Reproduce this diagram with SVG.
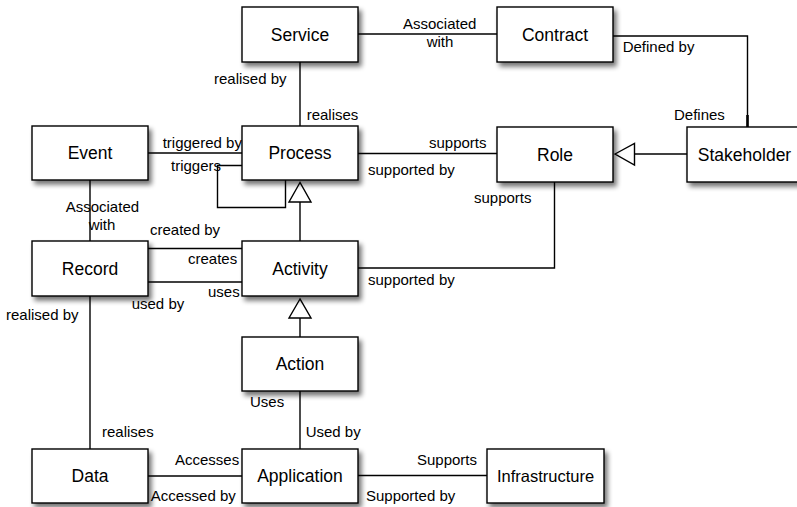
<svg xmlns="http://www.w3.org/2000/svg" width="797" height="507" viewBox="0 0 797 507">
<style>
.box{fill:#fff;stroke:#000;stroke-width:1.4;filter:url(#sh)}
.nt{font-family:"Liberation Sans",Arial,Helvetica,sans-serif;font-size:17.5px;text-anchor:middle;fill:#000}
.lb{font-family:"Liberation Sans",Arial,Helvetica,sans-serif;font-size:15px;fill:#000}
.ln{fill:none;stroke:#000;stroke-width:1.4}
.tri{fill:#fff;stroke:#000;stroke-width:1.4}
</style>
<defs>
<filter id="sh" x="-20%" y="-20%" width="150%" height="160%">
<feGaussianBlur in="SourceAlpha" stdDeviation="2.5"/>
<feOffset dx="3" dy="4" result="b"/>
<feComponentTransfer><feFuncA type="linear" slope="0.55"/></feComponentTransfer>
<feMerge><feMergeNode/><feMergeNode in="SourceGraphic"/></feMerge>
</filter>
</defs>
<rect width="797" height="507" fill="#fff"/>
<g id="connectors">
<path class="ln" d="M358,34 H497"/>
<path class="ln" d="M613,36 H747.5 V127"/>
<path d="M747.5,115 V127" stroke="#000" stroke-width="2.6"/>
<path class="ln" d="M300,62 V126"/>
<path class="ln" d="M148,153 H242"/>
<path class="ln" d="M242,165.5 H217.5 V207.5 H285.5 V180"/>
<path class="ln" d="M358,153.5 H497"/>
<path class="ln" d="M687,154 H634.5"/>
<polygon class="tri" points="615,154 634.5,143.5 634.5,165"/>
<path class="ln" d="M554.5,182 V268 H358"/>
<path class="ln" d="M300,241 V202"/>
<polygon class="tri" points="300,182.5 289,202 311,202"/>
<path class="ln" d="M90,180 V241"/>
<path class="ln" d="M148,248.5 H242"/>
<path class="ln" d="M148,282 H242"/>
<path class="ln" d="M90,296 V449"/>
<path class="ln" d="M300,337 V318"/>
<polygon class="tri" points="300,299 289,318 311,318"/>
<path class="ln" d="M300,391 V449"/>
<path class="ln" d="M148,476 H242"/>
<path class="ln" d="M358,475.5 H487"/>
</g>
<g id="labels">
<text class="lb" x="403" y="29">Associated</text>
<text class="lb" x="440" y="47" text-anchor="middle">with</text>
<text class="lb" x="622.7" y="51.5">Defined by</text>
<text class="lb" x="674" y="120">Defines</text>
<text class="lb" x="214" y="84">realised by</text>
<text class="lb" x="306.7" y="120">realises</text>
<text class="lb" x="162.7" y="148">triggered by</text>
<text class="lb" x="171" y="170.5">triggers</text>
<text class="lb" x="429" y="148">supports</text>
<text class="lb" x="368" y="175">supported by</text>
<text class="lb" x="474" y="203">supports</text>
<text class="lb" x="368" y="285">supported by</text>
<text class="lb" x="65.7" y="212">Associated</text>
<text class="lb" x="102" y="230" text-anchor="middle">with</text>
<text class="lb" x="150" y="235">created by</text>
<text class="lb" x="188" y="264">creates</text>
<text class="lb" x="208" y="297">uses</text>
<text class="lb" x="131.7" y="309">used by</text>
<text class="lb" x="6" y="320">realised by</text>
<text class="lb" x="102" y="436.5">realises</text>
<text class="lb" x="250" y="406.5">Uses</text>
<text class="lb" x="305.7" y="436.5">Used by</text>
<text class="lb" x="175" y="465">Accesses</text>
<text class="lb" x="150.7" y="501">Accessed by</text>
<text class="lb" x="417" y="465">Supports</text>
<text class="lb" x="366" y="501">Supported by</text>
</g>
<g id="service"><rect class="box" x="242" y="7" width="116" height="55"/><text class="nt" x="300" y="40.8">Service</text></g>
<g id="contract"><rect class="box" x="497" y="7" width="116" height="55"/><text class="nt" x="555" y="40.8">Contract</text></g>
<g id="event"><rect class="box" x="32" y="126" width="116" height="54"/><text class="nt" x="90" y="159.3">Event</text></g>
<g id="process"><rect class="box" x="242" y="126" width="116" height="54"/><text class="nt" x="300" y="159.3">Process</text></g>
<g id="role"><rect class="box" x="497" y="127" width="116" height="55"/><text class="nt" x="555" y="160.8">Role</text></g>
<g id="stakeholder"><rect class="box" x="687" y="127" width="116" height="55"/><text class="nt" x="744.5" y="160.8">Stakeholder</text></g>
<g id="record"><rect class="box" x="32" y="241" width="116" height="55"/><text class="nt" x="90" y="274.8">Record</text></g>
<g id="activity"><rect class="box" x="242" y="241" width="116" height="55"/><text class="nt" x="300" y="274.8">Activity</text></g>
<g id="action"><rect class="box" x="242" y="337" width="116" height="54"/><text class="nt" x="300" y="370.3">Action</text></g>
<g id="data"><rect class="box" x="32" y="449" width="116" height="54"/><text class="nt" x="90" y="482.3">Data</text></g>
<g id="application"><rect class="box" x="242" y="449" width="116" height="54"/><text class="nt" x="300" y="482.3">Application</text></g>
<g id="infrastructure"><rect class="box" x="487" y="449" width="117" height="54"/><text class="nt" x="545.5" y="482" style="font-size:16.5px">Infrastructure</text></g>
</svg>
